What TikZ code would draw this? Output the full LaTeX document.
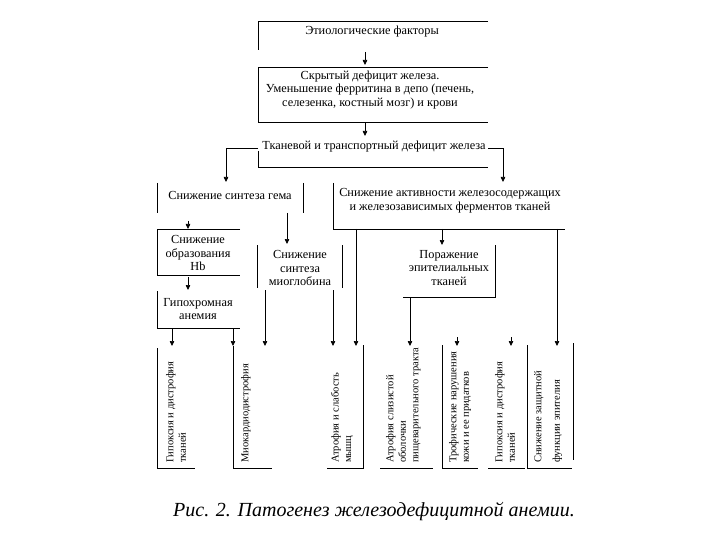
\documentclass[tikz,border=0pt]{standalone}
\usepackage{fontspec}
\setmainfont{Liberation Serif}
\usetikzlibrary{arrows.meta}
\tikzset{
  lbl/.style={inner sep=0pt, align=center, font=\fontsize{12.3}{13.6}\selectfont},
  vlbl/.style={inner sep=0pt, align=left, rotate=90, anchor=north west, font=\fontsize{10.5}{12.5}\selectfont},
  ln/.style={line width=0.7pt},
  arr/.style={-{Triangle[width=4.5pt,length=5pt]}, line width=0.7pt},
}
\begin{document}
\begin{tikzpicture}[x=1pt,y=-1pt]
\useasboundingbox (0,0) rectangle (720,540);
% text nodes
\node[lbl] (etio) at (372,32) {Этиологические факторы};
\node[lbl] (latent) at (370,90) {Скрытый дефицит железа.\\Уменьшение ферритина в депо (печень,\\селезенка, костный мозг) и крови};
\node[lbl] (tissue) at (374,147) {Тканевой и транспортный дефицит железа};
\node[lbl] (heme) at (230,195) {Снижение синтеза гема};
\node[lbl] (enz) at (450,201) {Снижение активности железосодержащих\\и железозависимых ферментов тканей};
\node[lbl] (hb) at (198,253) {Снижение\\образования\\Hb};
\node[lbl] (myo) at (300,268) {Снижение\\синтеза\\миоглобина};
\node[lbl] (epi) at (449,268) {Поражение\\эпителиальных\\тканей};
\node[lbl] (hypo) at (198,309) {Гипохромная\\анемия};
% bottom rotated
\node[vlbl] (bA) at (166,463) {Гипоксия и дистрофия\\тканей};
\node[vlbl] (bB) at (241,463) {Миокардиодистрофия};
\node[vlbl] (bC) at (331,463) {Атрофия и слабость\\мышц};
\node[vlbl] (bD) at (386,463) {Атрофия слизистой\\оболочки\\пищеварительного тракта};
\node[vlbl] (bE) at (449,463) {Трофические нарушения\\кожи и ее придатков};
\node[vlbl] (bF) at (495,463) {Гипоксия и дистрофия\\тканей};
\node[vlbl] (bG) at (534,463) {Снижение защитной\\[6pt]функции эпителия};
% partial box borders
\draw[ln] (488,21) -- (258,21) -- (258,50);
\draw[ln] (488,67) -- (258,67) -- (258,122) -- (488,122);
\draw[ln] (258,151) -- (258,167) -- (488,167);
\draw[ln] (157,183) -- (157,213);
\draw[ln] (303,183) -- (303,213);
\draw[ln] (240,229) -- (157,229) -- (157,275) -- (240,275);
\draw[ln] (157,291) -- (157,328) -- (240,328);
\draw[ln] (257,245) -- (257,288);
\draw[ln] (342,245) -- (342,288);
\draw[ln] (333,183) -- (333,229) -- (565,229);
\draw[ln] (495,245) -- (495,297) -- (403,297);
\draw[ln] (157,348) -- (157,468) -- (195,468);
\draw[ln] (233,346) -- (233,468) -- (272,468);
\draw[ln] (327,468) -- (363,468) -- (363,345);
\draw[ln] (380,468) -- (433,468);
\draw[ln] (442,345) -- (442,468) -- (478,468);
\draw[ln] (488,468) -- (525,468);
\draw[ln] (527,345) -- (527,468) -- (572,468);
\draw[ln] (573,343) -- (573,460);
% connector coordinates
\coordinate (c1s) at (365,52);  \coordinate (c1e) at (365,65);
\coordinate (c2s) at (365,123); \coordinate (c2e) at (365,136);
\coordinate (c3s) at (258,148); \coordinate (c3e) at (226,182);
\coordinate (c4s) at (488,148); \coordinate (c4e) at (503,182);
\coordinate (c5s) at (188,221); \coordinate (c5e) at (188,229);
\coordinate (c6s) at (287,213); \coordinate (c6e) at (287,244);
\coordinate (c7s) at (188,277); \coordinate (c7e) at (188,290);
\coordinate (c8s) at (442,229); \coordinate (c8e) at (442,245);
\coordinate (h1s) at (172,328); \coordinate (h1e) at (172,346);
\coordinate (h2s) at (233,328); \coordinate (h2e) at (233,346);
\coordinate (m1s) at (265,290); \coordinate (m1e) at (265,346);
\coordinate (m2s) at (333,290); \coordinate (m2e) at (333,346);
\coordinate (e1s) at (356,229); \coordinate (e1e) at (356,346);
\coordinate (e2s) at (557,229); \coordinate (e2e) at (557,346);
\coordinate (p1s) at (410,297); \coordinate (p1e) at (410,346);
\coordinate (s1s) at (457,337); \coordinate (s1e) at (457,346);
\coordinate (s2s) at (511,337); \coordinate (s2e) at (511,346);
% connectors
\draw[arr] (c1s) -- (c1e);
\draw[arr] (c2s) -- (c2e);
\draw[arr] (c3s) -| (c3e);
\draw[arr] (c4s) -| (c4e);
\draw[arr] (c5s) -- (c5e);
\draw[arr] (c6s) -- (c6e);
\draw[arr] (c7s) -- (c7e);
\draw[arr] (c8s) -- (c8e);
\draw[arr] (h1s) -- (h1e);
\draw[arr] (h2s) -- (h2e);
\draw[arr] (m1s) -- (m1e);
\draw[arr] (m2s) -- (m2e);
\draw[arr] (e1s) -- (e1e);
\draw[arr] (e2s) -- (e2e);
\draw[arr] (p1s) -- (p1e);
\draw[arr] (s1s) -- (s1e);
\draw[arr] (s2s) -- (s2e);
% caption
\node[inner sep=0pt, font=\fontsize{20}{24}\selectfont\itshape] (cap) at (374,512) {Рис. 2. Патогенез железодефицитной анемии.};
\end{tikzpicture}
\end{document}
